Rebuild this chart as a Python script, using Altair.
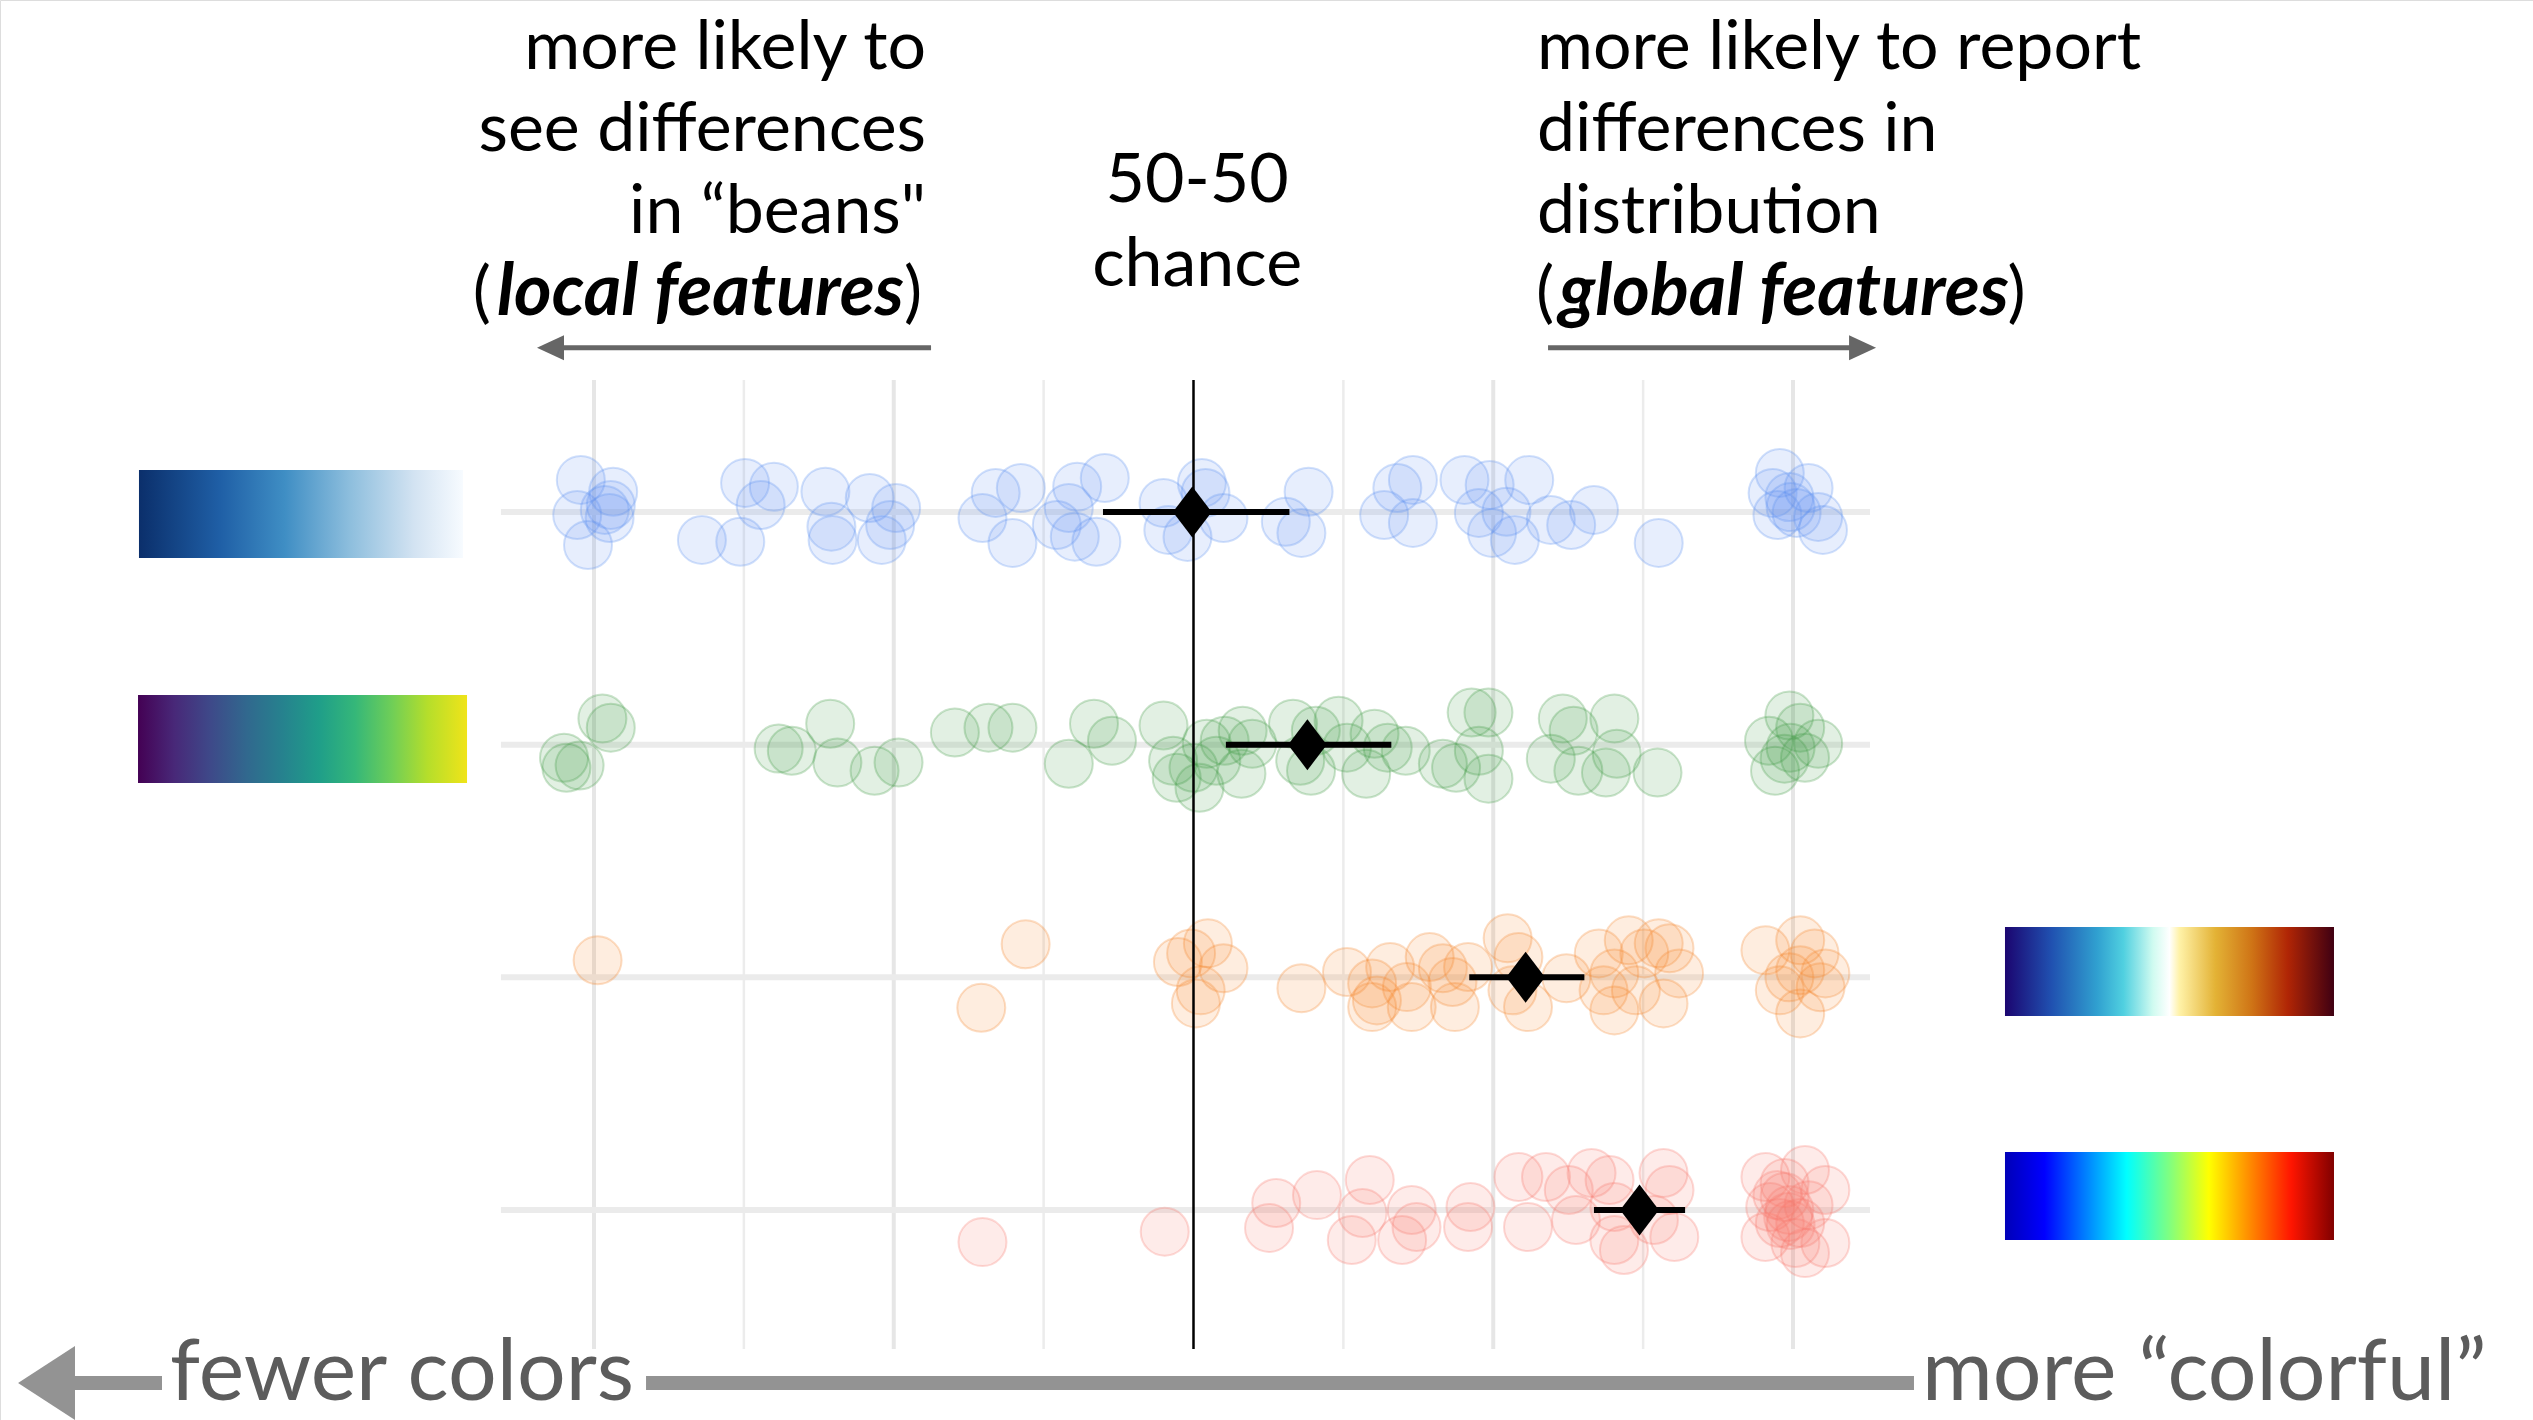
import altair as alt
import pandas as pd

# ---- data -------------------------------------------------------------
scheme_names = ["Blues", "Viridis", "Diverging", "Jet"]
scheme_colors = ["#5b8ff0", "#3f9b46", "#f5862b", "#f8766d"]
scheme_rows = [1, 2, 3, 4]

# individual participant responses (x) and their vertical jitter (row units)
blues_x = [-0.011, -0.014, -0.005, 0.016, 0.014, 0.013, 0.009, 0.090, 0.122, 0.126,
           0.150, 0.139, 0.193, 0.198, 0.199, 0.230, 0.252, 0.247, 0.240, 0.324,
           0.335, 0.356, 0.349, 0.386, 0.403, 0.426, 0.396, 0.401, 0.419, 0.475,
           0.479, 0.507, 0.495, 0.510, 0.525, 0.596, 0.577, 0.590, 0.659, 0.670,
           0.683, 0.683, 0.726, 0.747, 0.738, 0.749, 0.768, 0.761, 0.780, 0.798,
           0.815, 0.834, 0.888, 0.989, 0.983, 0.997, 1.013, 0.987, 1.003, 1.021,
           1.025, 0.998]
blues_dy = [-0.138, 0.013, 0.142, -0.087, -0.030, 0.026, -0.009, 0.120, 0.128, -0.125,
            -0.109, -0.030, -0.087, 0.063, 0.120, -0.060, -0.017, 0.056, 0.120, 0.026,
            -0.082, -0.103, 0.133, 0.056, -0.109, -0.146, -0.017, 0.106, 0.128, -0.039,
            0.077, -0.125, 0.107, -0.082, 0.026, -0.087, 0.042, 0.090, 0.013, -0.103,
            -0.138, 0.047, -0.138, -0.116, 0.004, 0.090, 0.120, -0.001, -0.138, 0.034,
            0.056, -0.009, 0.133, -0.168, -0.082, -0.064, -0.103, 0.013, 0.004, 0.021,
            0.077, -0.021]

viridis_x = [0.007, 0.014, -0.025, -0.023, -0.012, 0.154, 0.165, 0.197, 0.203, 0.234,
             0.254, 0.301, 0.329, 0.349, 0.396, 0.417, 0.432, 0.475, 0.483, 0.486,
             0.500, 0.505, 0.519, 0.511, 0.526, 0.541, 0.540, 0.549, 0.583, 0.589,
             0.598, 0.602, 0.621, 0.628, 0.644, 0.651, 0.662, 0.677, 0.708, 0.719,
             0.732, 0.746, 0.738, 0.746, 0.808, 0.817, 0.851, 0.798, 0.821, 0.844,
             0.853, 0.887, 0.997, 1.006, 0.980, 0.998, 1.021, 0.985, 1.010, 0.993]
viridis_dy = [-0.112, -0.073, 0.056, 0.099, 0.090, 0.017, 0.026, -0.090, 0.077, 0.112,
              0.077, -0.052, -0.073, -0.073, 0.082, -0.090, -0.017, -0.082, 0.069, 0.142,
              0.099, 0.185, 0.069, -0.004, -0.017, -0.060, 0.125, -0.004, -0.090, 0.069,
              0.112, -0.060, -0.103, 0.013, 0.125, -0.047, 0.013, 0.026, 0.082, 0.099,
              -0.138, -0.138, 0.026, 0.146, -0.112, -0.060, -0.112, 0.060, 0.112, 0.120,
              0.039, 0.120, -0.125, -0.073, -0.017, 0.013, -0.004, 0.112, 0.056, 0.060]

diverging_x = [0.003, 0.360, 0.323, 0.487, 0.498, 0.512, 0.525, 0.502, 0.506, 0.590,
               0.628, 0.649, 0.653, 0.664, 0.649, 0.682, 0.678, 0.697, 0.708, 0.729,
               0.718, 0.716, 0.762, 0.771, 0.779, 0.766, 0.811, 0.838, 0.851, 0.851,
               0.863, 0.876, 0.888, 0.897, 0.869, 0.892, 0.842, 0.905, 0.977, 1.006,
               1.018, 0.989, 1.006, 1.023, 1.006, 0.997, 1.027]
diverging_dy = [-0.073, -0.142, 0.131, -0.066, -0.103, -0.146, -0.039, 0.112, 0.056, 0.047,
                -0.023, 0.026, 0.099, -0.044, 0.128, 0.128, 0.042, -0.087, -0.039, -0.044,
                0.128, 0.020, -0.168, -0.087, 0.128, 0.056, 0.004, -0.103, -0.017, 0.142,
                -0.159, -0.103, -0.146, -0.125, 0.056, 0.112, 0.056, -0.017, -0.116, -0.159,
                -0.103, 0.056, 0.155, 0.043, -0.030, 0.000, -0.017]

jet_x = [0.324, 0.476, 0.563, 0.569, 0.603, 0.647, 0.632, 0.641, 0.674, 0.682,
         0.686, 0.729, 0.731, 0.771, 0.779, 0.794, 0.813, 0.832, 0.819, 0.847,
         0.851, 0.859, 0.851, 0.892, 0.897, 0.901, 0.884, 0.977, 0.993, 1.010,
         0.981, 0.997, 1.027, 0.977, 1.002, 1.027, 0.989, 1.006, 0.993, 1.010,
         0.987, 0.998, 1.013, 0.996]
jet_dy = [0.138, 0.093, 0.077, -0.030, -0.064, -0.129, 0.129, 0.013, 0.129, 0.000,
          0.073, 0.073, -0.013, -0.142, 0.073, -0.142, -0.086, -0.159, 0.043, -0.129,
          0.129, 0.172, -0.013, -0.159, -0.086, 0.116, 0.043, -0.142, -0.116, -0.172,
          -0.013, 0.000, -0.086, 0.116, 0.142, 0.142, 0.056, 0.056, -0.056, 0.185,
          -0.064, 0.064, -0.021, 0.030]

# per-scheme estimate with interval
est_mean = [0.499, 0.595, 0.777, 0.872]
est_lo = [0.4245, 0.527, 0.730, 0.834]
est_hi = [0.580, 0.665, 0.826, 0.910]

grid_major = [0.0, 0.25, 0.75, 1.0]
grid_minor = [0.125, 0.375, 0.625, 0.875]
chance = 0.5

# colour ramps for the swatches
blues_stops = [(0.0, "#0b2f6b"), (0.25, "#1f5fa6"), (0.45, "#3f8ec4"),
               (0.65, "#8dbedd"), (0.85, "#d3e3f2"), (1.0, "#f7fbff")]
viridis_stops = [(0.0, "#440154"), (0.11, "#482878"), (0.22, "#3e4989"), (0.33, "#31688e"),
                 (0.44, "#26828e"), (0.55, "#1f9e89"), (0.66, "#35b779"), (0.77, "#6ece58"),
                 (0.88, "#b5de2b"), (1.0, "#f0e419")]
diverging_stops = [(0.0, "#1b0570"), (0.14, "#2050b0"), (0.28, "#30a0d0"), (0.36, "#50d0e0"),
                   (0.45, "#d0fbf0"), (0.5, "#ffffff"), (0.53, "#fff2a8"), (0.64, "#e3b235"),
                   (0.75, "#cf7416"), (0.86, "#b02505"), (1.0, "#3f0012")]
jet_stops = [(0.0, "#0000b8"), (0.12, "#0000ff"), (0.37, "#00ffff"), (0.5, "#80ff80"),
             (0.62, "#ffff00"), (0.87, "#ff1500"), (1.0, "#800000")]

left_lines = ["more likely to", "see differences", "in \u201cbeans\""]
right_lines = ["more likely to report", "differences in", "distribution"]
center_lines = ["50-50", "chance"]

# ---- tables -------------------------------------------------------------
pts = []
for name, row, xs_, dys in [
    ("Blues", 1, blues_x, blues_dy),
    ("Viridis", 2, viridis_x, viridis_dy),
    ("Diverging", 3, diverging_x, diverging_dy),
    ("Jet", 4, jet_x, jet_dy),
]:
    for v, d in zip(xs_, dys):
        pts.append({"scheme": name, "v": v, "yy": row + d})
pts = pd.DataFrame(pts)

est = pd.DataFrame({"scheme": scheme_names, "row": scheme_rows,
                    "mean": est_mean, "lo": est_lo, "hi": est_hi})

# ---- scales (shared by every layer) --------------------------------------
xs = alt.Scale(domain=[-0.49541, 1.61718], nice=False, zero=False)
ys = alt.Scale(domain=[-1.2005, 4.9025], reverse=True, nice=False, zero=False)
cscale = alt.Scale(domain=scheme_names, range=scheme_colors)

GRID_TOP, GRID_BOT = 0.433, 4.597


def X(f, **kw):
    return alt.X(f, scale=xs, axis=None, **kw)


def Y(f, **kw):
    return alt.Y(f, scale=ys, axis=None, **kw)


def grid_layer(vals, width, color):
    df = pd.DataFrame({"v": vals, "y0": GRID_TOP, "y1": GRID_BOT})
    return alt.Chart(df).mark_rule(strokeWidth=width, color=color).encode(
        x=X("v:Q"), y=Y("y0:Q"), y2="y1:Q")


grid_maj = grid_layer(grid_major, 4, "#e6e6e6")
grid_min = grid_layer(grid_minor, 2.5, "#ececec")

row_lines = alt.Chart(pd.DataFrame({"row": scheme_rows, "x0": -0.0776, "x1": 1.0642})).mark_rule(
    strokeWidth=6, color="#ebebeb").encode(x=X("x0:Q"), x2="x1:Q", y=Y("row:Q"))

dots = alt.Chart(pts).mark_circle(
    size=2304, opacity=1, fillOpacity=0.15, strokeOpacity=0.28, strokeWidth=2
).encode(
    x=X("v:Q"), y=Y("yy:Q"),
    fill=alt.Fill("scheme:N", scale=cscale, legend=None),
    stroke=alt.Stroke("scheme:N", scale=cscale, legend=None),
)

chance_line = alt.Chart(pd.DataFrame({"v": [chance], "y0": GRID_TOP, "y1": GRID_BOT})).mark_rule(
    strokeWidth=2.5, color="black").encode(x=X("v:Q"), y=Y("y0:Q"), y2="y1:Q")

bars = alt.Chart(est).mark_rule(strokeWidth=6, color="black").encode(
    x=X("lo:Q"), x2="hi:Q", y=Y("row:Q"))

diamonds = alt.Chart(est).mark_point(
    shape="M0,-1L0.76,0L0,1L-0.76,0Z", size=2601, filled=True, color="black", opacity=1
).encode(x=X("mean:Q"), y=Y("row:Q"))


def swatch(stops, x0, x1, y0, y1):
    grad = alt.LinearGradient(
        gradient="linear",
        stops=[alt.GradientStop(offset=o, color=c) for o, c in stops],
        x1=0, x2=1, y1=0, y2=0,
    )
    df = pd.DataFrame({"x0": [x0], "x1": [x1], "y0": [y0], "y1": [y1]})
    return alt.Chart(df).mark_rect(fill=grad).encode(
        x=X("x0:Q"), x2="x1:Q", y=Y("y0:Q"), y2="y1:Q")


swatches = [
    swatch(blues_stops, -0.3795, -0.1093, 0.8195, 1.1977),
    swatch(viridis_stops, -0.3803, -0.1059, 1.7865, 2.1647),
    swatch(diverging_stops, 1.1768, 1.4512, 2.7836, 3.1661),
    swatch(jet_stops, 1.1768, 1.4512, 3.7507, 4.1289),
]

FONT = "Lato"
TOP_SIZE = 68
EMPH_SIZE = 72
line_y = [-0.9040, -0.5516, -0.1991, 0.1533]


def text_layer(texts, xv, yv, align, size=TOP_SIZE, color="black", weight="normal",
               style="normal"):
    df = pd.DataFrame({"t": texts, "x": xv, "y": yv})
    return alt.Chart(df).mark_text(
        align=align, baseline="alphabetic", font=FONT, fontSize=size, color=color,
        fontWeight=weight, fontStyle=style
    ).encode(x=X("x:Q"), y=Y("y:Q"), text="t:N")


texts = [
    text_layer(left_lines, [0.2769] * 3, line_y[:3], "right"),
    text_layer(right_lines, [0.7865] * 3, line_y[:3], "left"),
    text_layer(center_lines, [0.503] * 2, [-0.3324, 0.0287], "center"),
    # parenthesised emphasis lines
    text_layer(["("], [-0.0860], [line_y[3]], "right"),
    text_layer([")"], [0.2585], [line_y[3]], "left"),
    text_layer(["local features"], [0.2585], [line_y[3]], "right", size=EMPH_SIZE,
               weight="bold", style="italic"),
    text_layer(["(", ")"], [0.7857, 1.1790], [line_y[3]] * 2, "left"),
    text_layer(["global features"], [0.8048], [line_y[3]], "left", size=EMPH_SIZE,
               weight="bold", style="italic"),
    # bottom direction labels
    text_layer(["fewer colors"], [-0.3536], [4.8166], "left", size=86, color="#5c5c5c"),
    text_layer(["more \u201ccolorful\u201d"], [1.1076], [4.8166], "left", size=86,
               color="#5c5c5c"),
]

# arrows: shafts and heads
TOP_ARROW_Y = 0.2939
BOTTOM_Y = 4.7435
shafts = pd.DataFrame({
    "x0": [-0.0367, 0.7957], "x1": [0.2811, 1.0576], "y": [TOP_ARROW_Y] * 2})
top_shafts = alt.Chart(shafts).mark_rule(strokeWidth=5, color="#666666").encode(
    x=X("x0:Q"), x2="x1:Q", y=Y("y:Q"))
head_left = alt.Chart(pd.DataFrame({"x": [-0.0363], "y": [TOP_ARROW_Y]})).mark_point(
    shape="M-1,0L1,-0.93L1,0.93Z", size=729, filled=True, color="#666666", opacity=1
).encode(x=X("x:Q"), y=Y("y:Q"))
head_right = alt.Chart(pd.DataFrame({"x": [1.058], "y": [TOP_ARROW_Y]})).mark_point(
    shape="M1,0L-1,-0.93L-1,0.93Z", size=729, filled=True, color="#666666", opacity=1
).encode(x=X("x:Q"), y=Y("y:Q"))

bottom = pd.DataFrame({"x0": [-0.4329, 0.0434], "x1": [-0.3603, 1.1009],
                       "y": [BOTTOM_Y] * 2})
bottom_line = alt.Chart(bottom).mark_rule(strokeWidth=14, color="#939393").encode(
    x=X("x0:Q"), x2="x1:Q", y=Y("y:Q"))
bottom_head = alt.Chart(pd.DataFrame({"x": [-0.4566], "y": [BOTTOM_Y]})).mark_point(
    shape="M-0.77,0L0.77,-1L0.77,1Z", size=5476, filled=True, color="#939393", opacity=1
).encode(x=X("x:Q"), y=Y("y:Q"))

chart = alt.layer(
    grid_min, grid_maj, row_lines, dots, chance_line, bars, diamonds,
    *swatches, *texts, top_shafts, head_left, head_right, bottom_line, bottom_head,
).properties(
    width=2533, height=1420, autosize=alt.AutoSizeParams(type="none"), padding=0
).configure_view(stroke=None).configure(background="white")

chart.save("out.html", embed_options={"renderer": "svg", "actions": False})
